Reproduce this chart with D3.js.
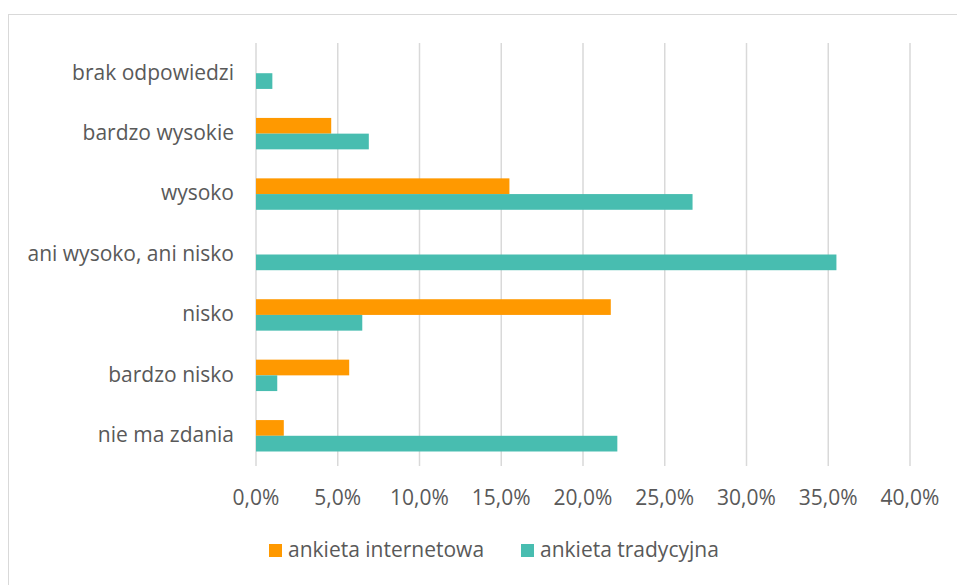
<!DOCTYPE html>
<html>
<head>
<meta charset="utf-8">
<script src="https://cdn.jsdelivr.net/npm/d3@7"></script>
<style>
  body { margin: 0; background: #fff; }
  svg text { font-family: "Open Sans", "Noto Sans", sans-serif; fill: #595959; }
</style>
</head>
<body>
<div id="chart"></div>
<script>
'use strict';

// categories, top to bottom
var categories = ['brak odpowiedzi', 'bardzo wysokie', 'wysoko', 'ani wysoko, ani nisko',
                  'nisko', 'bardzo nisko', 'nie ma zdania'];
var seriesNames = ['ankieta internetowa', 'ankieta tradycyjna'];
// values in percent
var internetowa = [0, 4.6, 15.5, 0, 21.7, 5.7, 1.7];
var tradycyjna = [1.0, 6.9, 26.7, 35.5, 6.5, 1.3, 22.1];
var ticks = [0, 5, 10, 15, 20, 25, 30, 35, 40];
var colors = ['#ff9900', '#48bdb0'];

var W = 957, H = 585;
var plot = { left: 256, right: 910, top: 43, bottom: 466 };
var fontSize = 21;

var svg = d3.select('#chart').append('svg')
    .attr('width', W)
    .attr('height', H);

// chart frame
svg.append('rect')
  .attr('x', 8.5).attr('y', 14.5)
  .attr('width', 960).attr('height', 600)
  .attr('fill', 'none')
  .attr('stroke', '#d9d9d9');

var x = d3.scaleLinear().domain([0, 40]).range([plot.left, plot.right]);
var y = d3.scaleBand().domain(categories).range([plot.top, plot.bottom]).paddingInner(0.48).paddingOuter(0.24);
var ySub = d3.scaleBand().domain(seriesNames).range([0, y.bandwidth()]);

// gridlines
svg.append('g').selectAll('line')
  .data(ticks)
  .join('line')
    .attr('x1', function(d) { return x(d); })
    .attr('x2', function(d) { return x(d); })
    .attr('y1', plot.top)
    .attr('y2', plot.bottom)
    .attr('stroke', '#d9d9d9')
    .attr('stroke-width', 1.5);

// tick labels
svg.append('g').selectAll('text')
  .data(ticks)
  .join('text')
    .attr('x', function(d) { return x(d); })
    .attr('y', 505)
    .attr('text-anchor', 'middle')
    .attr('font-size', fontSize)
    .text(function(d) { return d.toFixed(1).replace('.', ',') + '%'; });

// category labels
svg.append('g').selectAll('text')
  .data(categories)
  .join('text')
    .attr('x', 234)
    .attr('y', function(d) { return y(d) + y.bandwidth() / 2 - 1; })
    .attr('dy', '0.35em')
    .attr('text-anchor', 'end')
    .attr('font-size', fontSize)
    .text(function(d) { return d; });

// bars
var series = [internetowa, tradycyjna];
series.forEach(function(vals, si) {
  svg.append('g').selectAll('rect')
    .data(vals)
    .join('rect')
      .attr('x', x(0))
      .attr('y', function(d, i) { return y(categories[i]) + ySub(seriesNames[si]); })
      .attr('width', function(d) { return x(d) - x(0); })
      .attr('height', ySub.bandwidth())
      .attr('fill', colors[si]);
});

// legend
var legendX = [269, 521];
var legend = svg.append('g').selectAll('g')
  .data(seriesNames)
  .join('g')
    .attr('transform', function(d, i) { return 'translate(' + legendX[i] + ',544)'; });
legend.append('rect')
  .attr('width', 13).attr('height', 13)
  .attr('fill', function(d, i) { return colors[i]; });
legend.append('text')
  .attr('x', 19)
  .attr('y', 6)
  .attr('dy', '0.35em')
  .attr('font-size', fontSize)
  .text(function(d) { return d; });
</script>
</body>
</html>
